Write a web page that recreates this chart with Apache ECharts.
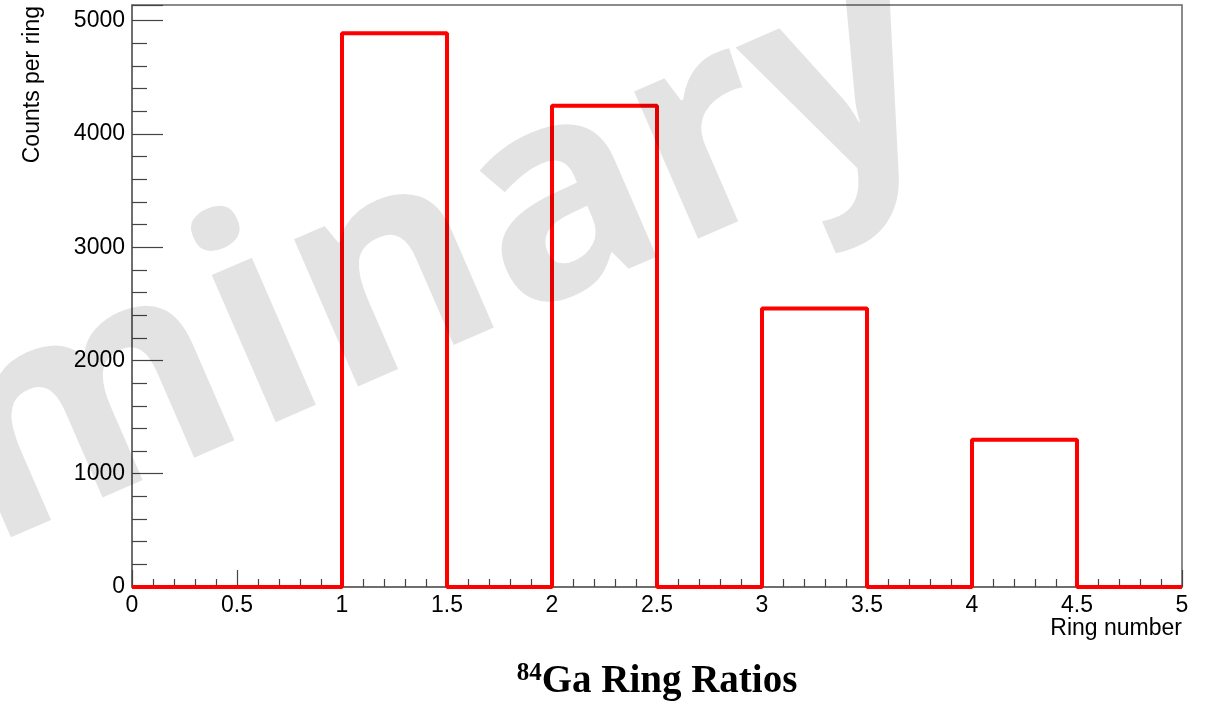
<!DOCTYPE html>
<html>
<head>
<meta charset="utf-8">
<script src="https://cdn.jsdelivr.net/npm/echarts@6/dist/echarts.min.js"></script>
<style>
  html, body { margin: 0; padding: 0; background: #fff; }
  #chart { width: 1209px; height: 702px; }
</style>
</head>
<body>
<div id="chart"></div>
<script>
// Histogram of counts per ring: lower bin edges and bin contents
const binEdges = [0, 0.5, 1, 1.5, 2, 2.5, 3, 3.5, 4, 4.5];
const binUpper = 5;
const counts = [0, 0, 4890, 0, 4250, 0, 2460, 0, 1300, 0];

const xTicks = [0, 0.5, 1, 1.5, 2, 2.5, 3, 3.5, 4, 4.5, 5];
const yTicks = [0, 1000, 2000, 3000, 4000, 5000];
const yMax = 5139;

// Step outline: one point per lower edge plus the closing upper edge
const stepData = binEdges.map((e, i) => [e, counts[i]]);
stepData.push([binUpper, counts[counts.length - 1]]);

const chart = echarts.init(document.getElementById('chart'), null, { renderer: 'canvas' });

const sans = 'Liberation Sans, Arial, Helvetica, sans-serif';
const labelFont = { color: '#000', fontFamily: sans, fontSize: 23 };

chart.setOption({
  animation: false,
  backgroundColor: '#fff',
  grid: {
    left: 132, right: 27, top: 5, bottom: 115,
    outerBoundsMode: 'none',
    containLabel: false,
    show: true, borderColor: '#666', borderWidth: 1.5, backgroundColor: 'transparent'
  },
  xAxis: {
    type: 'value',
    min: xTicks[0], max: xTicks[xTicks.length - 1], interval: 0.5,
    axisLine: { show: true, onZero: false, lineStyle: { color: '#666', width: 1.5 } },
    axisTick: { show: true, inside: true, length: 17, lineStyle: { color: '#444', width: 1.2 } },
    minorTick: { show: true, splitNumber: 5, length: 8, lineStyle: { color: '#444', width: 1.2 } },
    splitLine: { show: false },
    axisLabel: Object.assign({ margin: 7, formatter: v => String(v) }, labelFont),
    name: 'Ring number',
    nameLocation: 'end',
    nameGap: 0,
    nameMoveOverlap: false,
    nameTextStyle: {
      color: '#000', fontFamily: sans, fontSize: 23,
      align: 'right', verticalAlign: 'top', padding: [30, 0, 0, 0]
    }
  },
  yAxis: {
    type: 'value',
    min: 0, max: yMax, interval: 1000,
    axisLine: { show: true, lineStyle: { color: '#666', width: 1.5 } },
    axisTick: { show: true, inside: true, length: 31, lineStyle: { color: '#444', width: 1.2 } },
    minorTick: { show: true, splitNumber: 5, length: 15, lineStyle: { color: '#444', width: 1.2 } },
    splitLine: { show: false },
    axisLabel: Object.assign({
      margin: 7,
      formatter: v => (yTicks.indexOf(v) >= 0 ? String(v) : '')
    }, labelFont),
    name: 'Counts per ring',
    nameLocation: 'end',
    nameRotate: 90,
    nameGap: -1,
    nameMoveOverlap: false,
    nameTextStyle: {
      color: '#000', fontFamily: sans, fontSize: 23,
      align: 'right', verticalAlign: 'bottom', padding: [0, 0, 88, 0]
    }
  },
  series: [{
    type: 'line',
    step: 'end',
    data: stepData,
    showSymbol: false,
    clip: false,
    lineStyle: { color: '#ff0000', width: 4 },
    z: 3
  }],
  graphic: [
    {
      // translucent watermark laid over the plot
      type: 'text',
      x: 978, y: 186,
      rotation: 0.41,
      z: 100,
      silent: true,
      style: {
        text: 'Preliminary',
        fontFamily: 'Open Sans, sans-serif',
        fontWeight: 'bold',
        fontSize: 294,
        fill: 'rgba(0,0,0,0.11)',
        align: 'right',
        verticalAlign: 'bottom'
      }
    },
    {
      type: 'text',
      x: 657, y: 682,
      z: 10,
      style: {
        text: '{sup|84}{main|Ga Ring Ratios}',
        align: 'center',
        verticalAlign: 'middle',
        rich: {
          sup: { fontFamily: 'Liberation Serif, serif', fontWeight: 'bold', fontSize: 25, fill: '#000', verticalAlign: 'top', padding: [0, 0, 16, 0] },
          main: { fontFamily: 'Liberation Serif, serif', fontWeight: 'bold', fontSize: 39, fill: '#000' }
        }
      }
    }
  ]
});
</script>
</body>
</html>
